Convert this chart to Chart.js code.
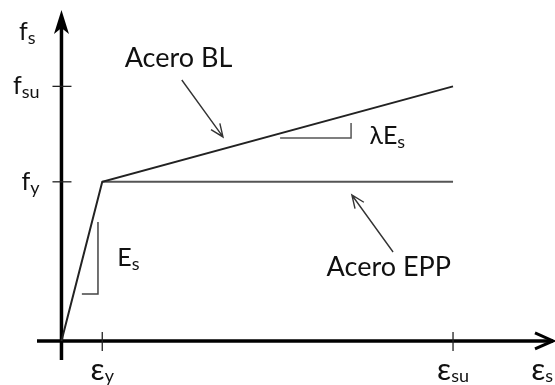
<!DOCTYPE html>
<html>
<head>
<meta charset="utf-8">
<script src="https://cdn.jsdelivr.net/npm/chart.js@4.4.1/dist/chart.umd.min.js"></script>
<style>
  html, body { margin: 0; padding: 0; background: #fff; }
  #wrap { width: 555px; height: 385px; position: relative; }
</style>
</head>
<body>
<div id="wrap"><canvas id="steelChart"></canvas></div>
<script>
// Normalised strain / stress values of the bilinear steel models
const strainTicks = [1, 9.6];            // eps_y, eps_su
const strainTickLabels = [["ε", "y"], ["ε", "su"]];
const stressTicks = [1, 1.6];            // f_y, f_su
const stressTickLabels = [["f", "y"], ["f", "su"]];

// Acero BL: elastic branch + hardening branch
const blStrain = [0, 1, 9.6];
const blStress = [0, 1, 1.6];
// Acero EPP: perfectly plastic branch
const eppStrain = [1, 9.6];
const eppStress = [1, 1];

// slope markers (in strain / stress units)
const esMarkStrain = [0.5, 0.895, 0.895];
const esMarkStress = [0.295, 0.295, 0.747];
const lamMarkStrain = [5.36, 7.1, 7.1];
const lamMarkStress = [1.275, 1.275, 1.37];

const FONT = "Lato, 'Open Sans', sans-serif";
const INK = "#111";

function toPoints(xs, ys) {
    return xs.map((x, i) => ({ x: x, y: ys[i] }));
}

// text with a subscript; y is the baseline of the main glyph
function drawSub(ctx, main, sub, x, y, align, size, subSize, drop) {
    size = size || 24;
    subSize = subSize || 17;
    drop = drop === undefined ? 4 : drop;
    ctx.font = size + "px " + FONT;
    const w1 = ctx.measureText(main).width;
    ctx.font = subSize + "px " + FONT;
    const w2 = ctx.measureText(sub).width;
    let left = x;
    if (align === "right") left = x - w1 - w2;
    if (align === "center") left = x - (w1 + w2) / 2;
    ctx.fillStyle = INK;
    ctx.textAlign = "left";
    ctx.textBaseline = "alphabetic";
    ctx.font = size + "px " + FONT;
    ctx.fillText(main, left, y);
    ctx.font = subSize + "px " + FONT;
    ctx.fillText(sub, left + w1, y + drop);
}

function arrowLine(ctx, x1, y1, x2, y2) {
    // thin pointer with an open head at (x2, y2)
    const ang = Math.atan2(y2 - y1, x2 - x1);
    const hl = 14, ha = 0.4;
    ctx.beginPath();
    ctx.moveTo(x1, y1);
    ctx.lineTo(x2, y2);
    ctx.moveTo(x2 - hl * Math.cos(ang - ha), y2 - hl * Math.sin(ang - ha));
    ctx.lineTo(x2, y2);
    ctx.lineTo(x2 - hl * Math.cos(ang + ha), y2 - hl * Math.sin(ang + ha));
    ctx.stroke();
}

const axesPlugin = {
    id: "axesPlugin",
    beforeDatasetsDraw(chart) {
        const ctx = chart.ctx;
        const xs = chart.scales.x, ys = chart.scales.y;
        const x0 = xs.getPixelForValue(0), y0 = ys.getPixelForValue(0);
        const top = chart.chartArea.top, bottom = chart.chartArea.bottom;
        const left = chart.chartArea.left, right = chart.chartArea.right;

        ctx.save();
        ctx.strokeStyle = "#000";
        ctx.lineWidth = 3.5;
        ctx.lineCap = "butt";
        // vertical axis
        ctx.beginPath();
        ctx.moveTo(x0, bottom);
        ctx.lineTo(x0, top + 12);
        ctx.stroke();
        // filled head
        ctx.fillStyle = "#000";
        ctx.beginPath();
        ctx.moveTo(x0, top);
        ctx.lineTo(x0 + 7.5, top + 24);
        ctx.lineTo(x0, top + 18);
        ctx.lineTo(x0 - 7.5, top + 24);
        ctx.closePath();
        ctx.fill();

        // horizontal axis
        ctx.beginPath();
        ctx.moveTo(left, y0);
        ctx.lineTo(right - 2, y0);
        ctx.stroke();
        ctx.lineWidth = 3;
        ctx.beginPath();
        ctx.moveTo(right - 20, y0 - 8);
        ctx.lineTo(right - 2, y0);
        ctx.lineTo(right - 20, y0 + 8);
        ctx.stroke();

        // tick marks
        ctx.lineWidth = 1.3;
        ctx.strokeStyle = "#222";
        strainTicks.forEach(v => {
            const px = xs.getPixelForValue(v);
            ctx.beginPath();
            ctx.moveTo(px, y0 - 9);
            ctx.lineTo(px, y0 + 10);
            ctx.stroke();
        });
        stressTicks.forEach(v => {
            const py = ys.getPixelForValue(v);
            ctx.beginPath();
            ctx.moveTo(x0 - 9, py);
            ctx.lineTo(x0 + 10, py);
            ctx.stroke();
        });

        // tick labels
        strainTicks.forEach((v, i) => {
            const l = strainTickLabels[i];
            drawSub(ctx, l[0], l[1], xs.getPixelForValue(v), y0 + 39, "center", 31, 18, 2);
        });
        stressTicks.forEach((v, i) => {
            const l = stressTickLabels[i];
            drawSub(ctx, l[0], l[1], x0 - 22, ys.getPixelForValue(v) + 8, "right", 25, 18);
        });
        // axis names
        drawSub(ctx, "f", "s", x0 - 26, top + 30, "right", 25, 18);
        drawSub(ctx, "ε", "s", right - 2, y0 + 39, "right", 31, 18, 2);
        ctx.restore();
    },
    afterDatasetsDraw(chart) {
        const ctx = chart.ctx;
        const xs = chart.scales.x, ys = chart.scales.y;
        const px = v => xs.getPixelForValue(v), py = v => ys.getPixelForValue(v);

        ctx.save();
        ctx.strokeStyle = "#333";
        ctx.lineWidth = 1.4;
        arrowLine(ctx, px(2.95), py(1.64), px(3.96), py(1.282));
        arrowLine(ctx, px(8.13), py(0.559), px(7.12), py(0.917));

        ctx.fillStyle = INK;
        ctx.textAlign = "left";
        ctx.textBaseline = "alphabetic";
        ctx.font = "27px " + FONT;
        ctx.fillText("Acero BL", px(1.55), py(1.72));
        ctx.fillText("Acero EPP", px(6.5), py(0.41));

        drawSub(ctx, "E", "s", px(1.37), py(0.47), "left", 25, 18);
        drawSub(ctx, "λE", "s", px(7.55), py(1.24), "left", 25, 18);
        ctx.restore();
    }
};

new Chart(document.getElementById("steelChart"), {
    type: "scatter",
    data: {
        datasets: [
            {
                label: "Acero BL",
                data: toPoints(blStrain, blStress),
                showLine: true,
                borderColor: "#222",
                borderWidth: 2,
                pointRadius: 0
            },
            {
                label: "Acero EPP",
                data: toPoints(eppStrain, eppStress),
                showLine: true,
                borderColor: "#555",
                borderWidth: 2,
                pointRadius: 0
            },
            {
                label: "Es",
                data: toPoints(esMarkStrain, esMarkStress),
                showLine: true,
                borderColor: "#444",
                borderWidth: 1.5,
                pointRadius: 0
            },
            {
                label: "lambda Es",
                data: toPoints(lamMarkStrain, lamMarkStress),
                showLine: true,
                borderColor: "#555",
                borderWidth: 1.5,
                pointRadius: 0
            }
        ]
    },
    options: {
        responsive: true,
        maintainAspectRatio: false,
        animation: false,
        layout: { padding: { left: 37, right: 0, top: 10, bottom: 25 } },
        plugins: { legend: { display: false }, tooltip: { enabled: false } },
        scales: {
            x: { type: "linear", min: -0.6, max: 12.1, display: false },
            y: { type: "linear", min: -0.12, max: 2.08, display: false }
        }
    },
    plugins: [axesPlugin]
});
</script>
</body>
</html>
